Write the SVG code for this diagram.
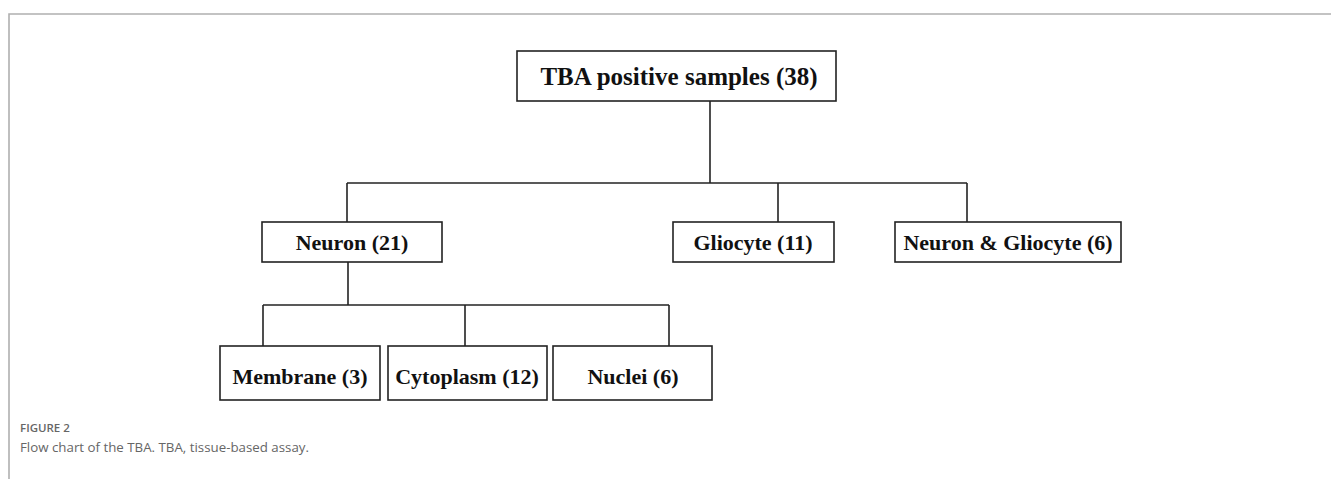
<svg xmlns="http://www.w3.org/2000/svg" width="1331" height="479" viewBox="0 0 1331 479">
  <style>
    .box { fill: #ffffff; stroke: #222222; stroke-width: 1.6; }
    .lbl { font-family: "Liberation Serif", "Times New Roman", serif; font-weight: bold; fill: #111111; text-anchor: middle; }
    .conn { stroke: #222222; stroke-width: 1.6; fill: none; }
    .cap1 { font-family: "Open Sans", "Noto Sans", sans-serif; font-size: 11.5px; font-weight: 600; fill: #666666; }
    .cap2 { font-family: "Open Sans", "Noto Sans", sans-serif; font-size: 13.3px; fill: #666666; }
  </style>
  <rect x="0" y="0" width="1331" height="479" fill="#ffffff"/>
  <path d="M9,479 V14 H1331" fill="none" stroke="#b0b0b0" stroke-width="1.6"/>

  <g id="connectors">
    <path class="conn" d="M710,101 V183" stroke-width="2.2"/>
    <path class="conn" d="M347,183 H710" stroke-width="2"/>
    <path class="conn" d="M710,183 H967"/>
    <path class="conn" d="M347,183 V222"/>
    <path class="conn" d="M778,183 V222"/>
    <path class="conn" d="M967,183 V222"/>
    <path class="conn" d="M348,262 V305" stroke-width="2"/>
    <path class="conn" d="M263,305 H669"/>
    <path class="conn" d="M263,305 V346"/>
    <path class="conn" d="M465,305 V346"/>
    <path class="conn" d="M669,305 V346"/>
  </g>

  <g id="node-tba">
    <rect class="box" x="517" y="51" width="319" height="50"/>
    <text class="lbl" x="679" y="85" font-size="25">TBA positive samples (38)</text>
  </g>
  <g id="node-neuron">
    <rect class="box" x="262" y="222" width="180" height="40"/>
    <text class="lbl" x="352" y="250" font-size="22">Neuron (21)</text>
  </g>
  <g id="node-gliocyte">
    <rect class="box" x="673" y="222" width="161" height="40"/>
    <text class="lbl" x="753" y="250" font-size="22">Gliocyte (11)</text>
  </g>
  <g id="node-neuron-gliocyte">
    <rect class="box" x="895" y="222" width="226" height="40"/>
    <text class="lbl" x="1008" y="250" font-size="22">Neuron &amp; Gliocyte (6)</text>
  </g>
  <g id="node-membrane">
    <rect class="box" x="220" y="346" width="160" height="54"/>
    <text class="lbl" x="300" y="384" font-size="22">Membrane (3)</text>
  </g>
  <g id="node-cytoplasm">
    <rect class="box" x="388" y="346" width="159" height="54"/>
    <text class="lbl" x="467" y="384" font-size="22">Cytoplasm (12)</text>
  </g>
  <g id="node-nuclei">
    <rect class="box" x="553" y="346" width="159" height="54"/>
    <text class="lbl" x="633" y="384" font-size="22">Nuclei (6)</text>
  </g>

  <text class="cap1" x="20" y="432">FIGURE 2</text>
  <text class="cap2" x="20" y="452">Flow chart of the TBA. TBA, tissue-based assay.</text>
</svg>
